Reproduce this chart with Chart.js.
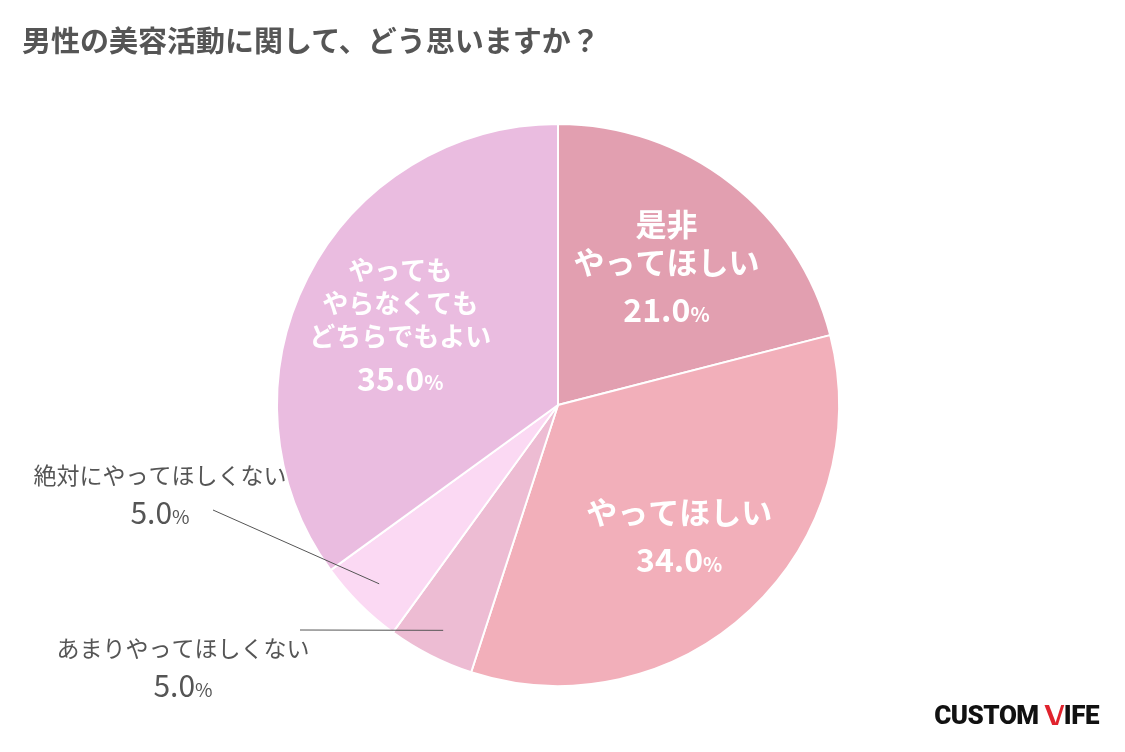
<!DOCTYPE html>
<html><head><meta charset="utf-8">
<script src="https://cdn.jsdelivr.net/npm/chart.js@4/dist/chart.umd.min.js"></script>
<style>
body{margin:0;background:#fff;font-family:"Noto Sans CJK JP","Noto Sans",sans-serif;}
#wrap{position:relative;width:1125px;height:752px;}
#title{position:absolute;left:22px;top:18px;font-size:29px;font-weight:bold;color:#555;}
#logo{position:absolute;right:26px;top:700px;font-size:26px;font-weight:900;color:#111;font-family:"Roboto",sans-serif;letter-spacing:-0.5px}
#logo span{color:#e0232d}
</style></head><body>
<div id="wrap">
<div id="title">男性の美容活動に関して、どう思いますか？</div>
<div id="logo">CUSTOM <span>\/</span>IFE</div>
<canvas id="c" width="1125" height="752"></canvas>
</div>
<script>
const labels = ['是非\nやってほしい', 'やってほしい', 'あまりやってほしくない', '絶対にやってほしくない', 'やっても\nやらなくても\nどちらでもよい'];
const values = [21.0, 34.0, 5.0, 5.0, 35.0];
const colors = ['#e29fb0', '#f2afba', '#edbcd3', '#fbd9f3', '#eabce0'];
const inside = [true, true, false, false, true];

const labelPlugin = {
  id: 'labels',
  afterDraw(chart) {
    const ctx = chart.ctx;
    const arcs = chart.getDatasetMeta(0).data;
    arcs.forEach((arc, i) => {
      const p = arc.getProps(['x', 'y', 'startAngle', 'endAngle', 'outerRadius']);
      const mid = (p.startAngle + p.endAngle) / 2;
      const pct = values[i].toFixed(1);
      ctx.save();
      ctx.textAlign = 'center';
      ctx.textBaseline = 'middle';
      if (inside[i]) {
        const r = p.outerRadius * 0.63;
        const cx = p.x + Math.cos(mid) * r, cy = p.y + Math.sin(mid) * r;
        const lines = labels[i].split('\n');
        const lh = i == 4 ? 33 : 38;
        const fs = i == 4 ? 26 : 31;
        const total = lines.length * lh + 44;
        let y = cy - total / 2 + lh / 2;
        ctx.fillStyle = '#fff';
        ctx.font = 'bold ' + fs + 'px "Noto Sans CJK JP"';
        lines.forEach(l => { ctx.fillText(l, cx, y); y += lh; });
        y += 10;
        ctx.font = 'bold 32px "Noto Sans CJK JP"';
        const w1 = ctx.measureText(pct).width;
        ctx.font = 'bold 20px "Noto Sans CJK JP"';
        const w2 = ctx.measureText('%').width;
        ctx.textAlign = 'left';
        ctx.font = 'bold 32px "Noto Sans CJK JP"';
        ctx.fillText(pct, cx - (w1 + w2) / 2, y);
        ctx.font = 'bold 20px "Noto Sans CJK JP"';
        ctx.fillText('%', cx - (w1 + w2) / 2 + w1, y + 4);
      } else {
        const r0 = p.outerRadius * 0.9;
        const sx = p.x + Math.cos(mid) * r0, sy = p.y + Math.sin(mid) * r0;
        const ex = i == 2 ? 300 : 213, ey = i == 2 ? 630 : 510;
        ctx.strokeStyle = '#555';
        ctx.lineWidth = 1;
        ctx.beginPath(); ctx.moveTo(sx, sy); ctx.lineTo(ex, ey); ctx.stroke();
        const tx = i == 2 ? 183 : 160, ty = i == 2 ? 648 : 475;
        ctx.fillStyle = '#555';
        ctx.font = '23px "Noto Sans CJK JP"';
        ctx.fillText(labels[i], tx, ty);
        ctx.font = '30px "Noto Sans CJK JP"';
        const w1 = ctx.measureText(pct).width;
        ctx.font = '19px "Noto Sans CJK JP"';
        const w2 = ctx.measureText('%').width;
        ctx.textAlign = 'left';
        ctx.font = '30px "Noto Sans CJK JP"';
        ctx.fillText(pct, tx - (w1 + w2) / 2, ty + 38);
        ctx.font = '19px "Noto Sans CJK JP"';
        ctx.fillText('%', tx - (w1 + w2) / 2 + w1, ty + 42);
      }
      ctx.restore();
    });
  }
};

new Chart(document.getElementById('c').getContext('2d'), {
  type: 'pie',
  data: {
    labels: labels,
    datasets: [{ data: values, backgroundColor: colors, borderColor: '#fff', borderWidth: 2 }]
  },
  options: {
    responsive: false,
    animation: false,
    layout: { padding: { top: 123, bottom: 65, left: 0, right: 9 } },
    plugins: { legend: { display: false }, tooltip: { enabled: false } }
  },
  plugins: [labelPlugin]
});
</script>
</body></html>
